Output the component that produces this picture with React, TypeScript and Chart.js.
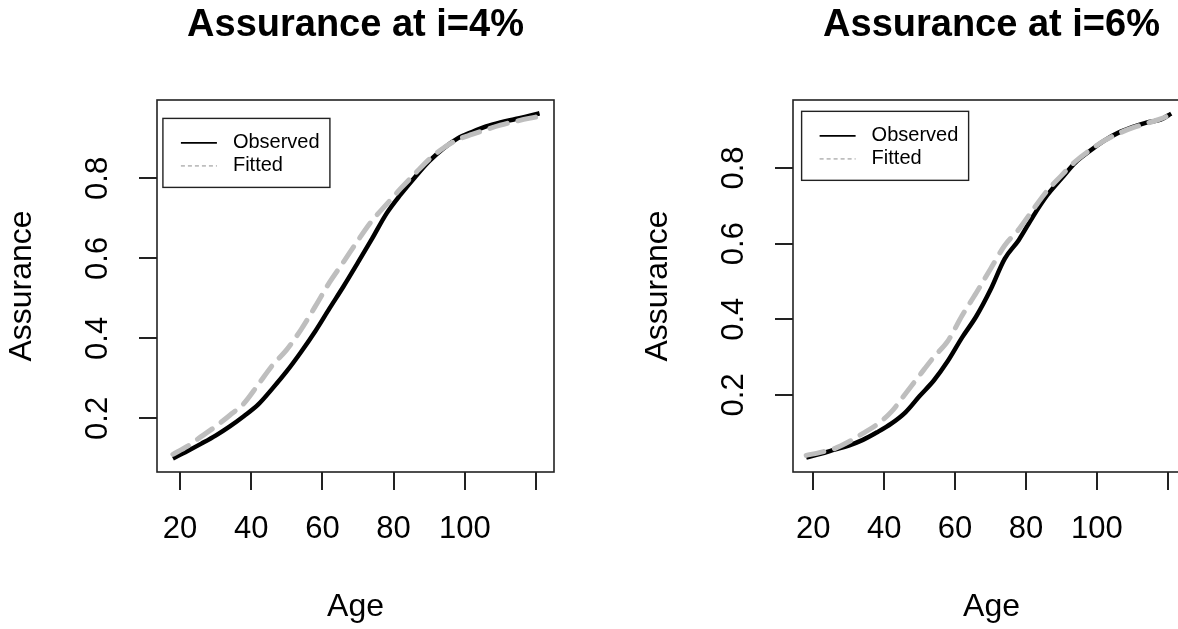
import React, { useEffect, useRef } from "react";
import { Chart, registerables } from "chart.js";

Chart.register(...registerables);

// ---- data ----
const ages = [18, 22, 26, 30, 34, 38, 42, 46, 50, 54, 58, 62, 66, 70, 74, 78, 82, 86, 90, 94, 98, 102, 106, 110, 114, 118, 121];

const observed4 = [0.100, 0.118, 0.137, 0.157, 0.180, 0.206, 0.235, 0.275, 0.318, 0.366, 0.418, 0.475, 0.531, 0.590, 0.650, 0.712, 0.760, 0.803, 0.843, 0.875, 0.900, 0.916, 0.930, 0.940, 0.948, 0.956, 0.963];
const fitted4 = [0.110, 0.130, 0.155, 0.180, 0.208, 0.238, 0.285, 0.333, 0.372, 0.422, 0.480, 0.540, 0.592, 0.645, 0.695, 0.735, 0.775, 0.812, 0.848, 0.876, 0.897, 0.910, 0.922, 0.933, 0.942, 0.950, 0.955];

const observed6 = [0.034, 0.044, 0.055, 0.066, 0.081, 0.101, 0.124, 0.154, 0.197, 0.238, 0.290, 0.352, 0.408, 0.478, 0.560, 0.610, 0.672, 0.728, 0.772, 0.815, 0.845, 0.872, 0.893, 0.908, 0.920, 0.928, 0.944];
const fitted6 = [0.040, 0.048, 0.058, 0.076, 0.098, 0.122, 0.155, 0.203, 0.252, 0.300, 0.343, 0.410, 0.470, 0.533, 0.595, 0.638, 0.690, 0.740, 0.780, 0.818, 0.847, 0.872, 0.891, 0.906, 0.918, 0.930, 0.942];

const xTicks = [20, 40, 60, 80, 100, 120];
const xTickLabels = ["20", "40", "60", "80", "100", ""];
const yTicks = [0.2, 0.4, 0.6, 0.8];
const yTickLabels = ["0.2", "0.4", "0.6", "0.8"];
const seriesNames = ["Observed", "Fitted"];
const titles = ["Assurance at i=4%", "Assurance at i=6%"];
const xTitle = "Age";
const yTitle = "Assurance";

const FONT = "'Liberation Sans', Arial, Helvetica, sans-serif";
const GRAY = "#BEBEBE";
const INK = "#222";

const W = 636;
const H = 629;

const boxAndLegend = {
  id: "boxAndLegend",
  afterDraw(chart: any, _args: any, opts: any) {
    const { ctx, chartArea: a, scales } = chart;
    ctx.save();
    ctx.strokeStyle = INK;
    ctx.lineWidth = 1.6;
    ctx.strokeRect(a.left, a.top, a.right - a.left, a.bottom - a.top);

    const lx = scales.x.getPixelForValue(opts.at[0]);
    const ly = scales.y.getPixelForValue(opts.at[1]);
    const w = 167;
    const h = 69;
    ctx.fillStyle = "#fff";
    ctx.fillRect(lx, ly, w, h);
    ctx.lineWidth = 1.4;
    ctx.strokeRect(lx, ly, w, h);

    ctx.font = `20px ${FONT}`;
    ctx.textBaseline = "middle";
    ctx.textAlign = "left";
    const rows = [24.5, 47.5];
    seriesNames.forEach((name, i) => {
      const yy = ly + rows[i];
      ctx.beginPath();
      ctx.setLineDash(i === 0 ? [] : [4, 3]);
      ctx.strokeStyle = i === 0 ? "#000" : GRAY;
      ctx.lineWidth = 1.6;
      ctx.moveTo(lx + 18, yy);
      ctx.lineTo(lx + 54, yy);
      ctx.stroke();
      ctx.setLineDash([]);
      ctx.fillStyle = "#000";
      ctx.fillText(name, lx + 70, yy);
    });
    ctx.restore();
  },
};

type PanelProps = {
  left: number;
  title: string;
  observed: number[];
  fitted: number[];
  xMin: number;
  xMax: number;
  yMin: number;
  yMax: number;
  legendAt: number[];
};

function Panel(p: PanelProps) {
  const ref = useRef<HTMLCanvasElement | null>(null);
  useEffect(() => {
    if (!ref.current) return;
    const chart = new Chart(ref.current, {
      type: "line",
      data: {
        datasets: [
          {
            label: seriesNames[0],
            data: ages.map((a, i) => ({ x: a, y: p.observed[i] })),
            borderColor: "#000",
            borderWidth: 4.5,
            pointRadius: 0,
            cubicInterpolationMode: "monotone",
            fill: false,
            order: 1,
          },
          {
            label: seriesNames[1],
            data: ages.map((a, i) => ({ x: a, y: p.fitted[i] })),
            borderColor: GRAY,
            borderWidth: 5,
            borderDash: [18, 11],
            borderCapStyle: "round",
            pointRadius: 0,
            cubicInterpolationMode: "monotone",
            fill: false,
            order: 0,
          },
        ],
      },
      options: {
        animation: false,
        responsive: false,
        events: [],
        layout: { padding: { left: 0, top: 0, right: W - 554, bottom: 0 } },
        plugins: {
          legend: { display: false },
          tooltip: { enabled: false },
          title: {
            display: true,
            text: p.title,
            fullSize: false,
            color: "#000",
            font: { family: FONT, size: 38, weight: "bold" },
            padding: { top: 2.5, bottom: 51.9 },
          },
          boxAndLegend: { at: p.legendAt },
        } as any,
        scales: {
          x: {
            type: "linear",
            min: p.xMin,
            max: p.xMax,
            afterFit: (s: any) => {
              s.height = H - 472;
            },
            afterBuildTicks: (s: any) => {
              s.ticks = xTicks.map((v) => ({ value: v }));
            },
            ticks: {
              autoSkip: false,
              maxRotation: 0,
              minRotation: 0,
              padding: 21,
              color: "#000",
              font: { family: FONT, size: 31 },
              callback: (_v: any, i: number) => xTickLabels[i],
            },
            grid: { display: true, drawOnChartArea: false, drawTicks: true, tickLength: 18, color: INK, lineWidth: 2 },
            border: { display: false },
            title: {
              display: true,
              text: xTitle,
              color: "#000",
              font: { family: FONT, size: 32 },
              padding: { top: 3, bottom: 3 },
            },
          },
          y: {
            type: "linear",
            min: p.yMin,
            max: p.yMax,
            afterFit: (s: any) => {
              s.width = 157;
            },
            afterBuildTicks: (s: any) => {
              s.ticks = yTicks.map((v) => ({ value: v }));
            },
            ticks: {
              autoSkip: false,
              minRotation: 90,
              maxRotation: 90,
              crossAlign: "center",
              padding: 18.5,
              color: "#000",
              font: { family: FONT, size: 31 },
              callback: (_v: any, i: number) => yTickLabels[i],
            },
            grid: { display: true, drawOnChartArea: false, drawTicks: true, tickLength: 18, color: INK, lineWidth: 2 },
            border: { display: false },
            title: {
              display: true,
              text: yTitle,
              color: "#000",
              font: { family: FONT, size: 32 },
              padding: { top: 3, bottom: 3 },
            },
          },
        },
      } as any,
      plugins: [boxAndLegend as any],
    });
    return () => chart.destroy();
  }, []);
  return (
    <canvas
      ref={ref}
      width={W}
      height={H}
      style={{ position: "absolute", left: p.left, top: 0, width: W, height: H }}
    />
  );
}

export default function App() {
  return (
    <div
      style={{
        position: "absolute",
        left: 0,
        top: 0,
        width: 1178,
        height: 629,
        overflow: "hidden",
        background: "#fff",
      }}
    >
      <Panel left={0} title={titles[0]} observed={observed4} fitted={fitted4} xMin={13.54} xMax={125.06} yMin={0.066} yMax={0.996} legendAt={[15.2, 0.95]} />
      <Panel left={636} title={titles[1]} observed={observed6} fitted={fitted6} xMin={14.27} xMax={126.3} yMin={-0.004} yMax={0.98} legendAt={[16.7, 0.95]} />
    </div>
  );
}
